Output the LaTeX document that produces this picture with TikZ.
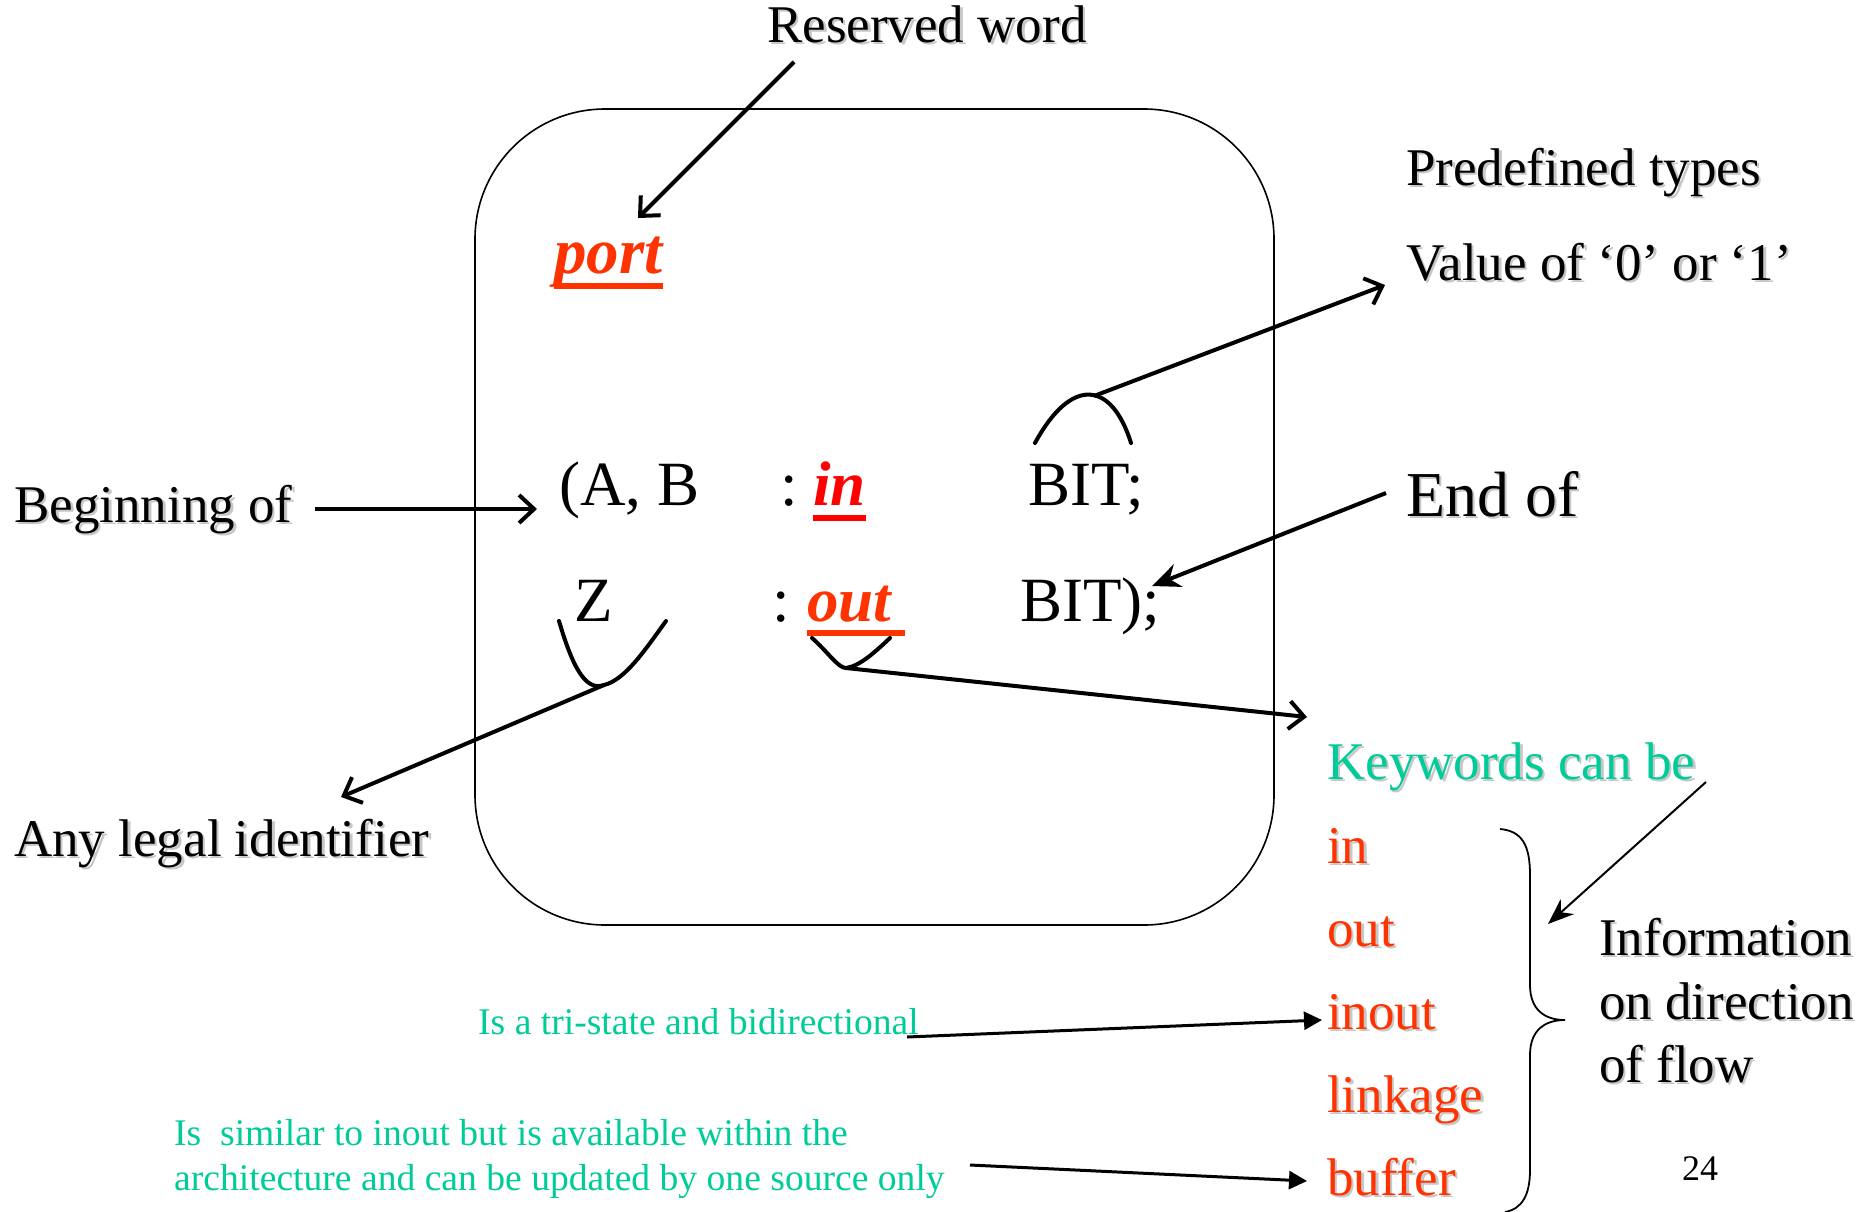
\documentclass[tikz,border=0pt]{standalone}
\usepackage{fontspec}
\setmainfont{Liberation Serif}
\usetikzlibrary{arrows.meta,calc}
\definecolor{kwred}{RGB}{255,51,0}
\definecolor{inred}{RGB}{255,0,0}
\definecolor{note}{RGB}{0,204,153}
% soft grey drop shadow behind slide text
\newcommand\shadowtext[1]{\leavevmode\rlap{\kern2.5pt\raisebox{-2.5pt}{\textcolor{black!22}{#1}}}#1}
\begin{document}
\begin{tikzpicture}[x=1pt,y=-1pt,
  big/.style={font=\fontsize{53}{63}\selectfont, inner sep=0pt, anchor=base west},
  endlbl/.style={font=\fontsize{64}{72}\selectfont, inner sep=0pt, anchor=base west},
  code/.style={font=\fontsize{63}{70}\selectfont, inner sep=0pt, anchor=base west},
  kw/.style={big, text=kwred},
  small/.style={font=\fontsize{37.6}{45}\selectfont, inner sep=0pt, anchor=base west, text=note},
  barb/.style={line width=4pt, -{Straight Barb[length=15pt,width=28pt]}},
  solid tip/.style={line width=4pt, -{Stealth[length=28pt,width=24pt]}},
  tri/.style={line width=3pt, -{Triangle[length=18pt,width=18pt]}},
  brack/.style={line width=4pt, line cap=round},
  uline/.style={line width=6pt}
]
\fill[white] (0,0) rectangle (1864,1211);
\useasboundingbox (0,0) rectangle (1864,1211);

% entity port frame
\draw[line width=1.6pt, rounded corners=130pt] (475,109) rectangle (1274,925);

% labels
\node[big] (reserved) at (767,42) {\shadowtext{Reserved word}};
\node[big] (predef) at (1406,185) {\shadowtext{Predefined types}};
\node[big] (value) at (1406,280) {\shadowtext{Value of ‘0’ or ‘1’}};
\node[big] (begin) at (14,522) {\shadowtext{Beginning of}};
\node[endlbl] (endof) at (1406,516) {\shadowtext{End of}};
\node[big] (anylegal) at (14,856) {\shadowtext{Any legal identifier}};

% port declaration
\node[code, text=kwred, font=\fontsize{65}{70}\selectfont\bfseries\itshape] (port) at (554,273) {port};
\node[code] (ab) at (559,505) {(A, B};
\node[code] (colA) at (780,505) {:};
\node[code, text=inred, font=\fontsize{63}{70}\selectfont\bfseries\itshape] (kin) at (813,505) {in};
\node[code] (bit1) at (1028,505) {BIT;};
\node[code] (z) at (574,621) {Z};
\node[code] (colB) at (772,621) {:};
\node[code, text=kwred, font=\fontsize{63}{70}\selectfont\bfseries\itshape] (kout) at (807,621) {out};
\node[code] (bit2) at (1020,621) {BIT);};

\draw[uline, kwred] ($(port.base west)+(0,13)$) -- ($(port.base east)+(0,13)$);
\draw[uline, inred] ($(kin.base west)+(0,13)$) -- ($(kin.base east)+(0,13)$);
\draw[uline, kwred] ($(kout.base west)+(0,12)$) -- ($(kout.base east)+(14,12)$);

% keyword list
\node[big, text=note] (kwhead) at (1327,779) {\shadowtext{Keywords can be}};
\node[kw] (lin) at (1327,863) {\shadowtext{in}};
\node[kw] (lout) at (1327,946) {\shadowtext{out}};
\node[kw] (linout) at (1327,1029) {\shadowtext{inout}};
\node[kw] (llink) at (1327,1112) {\shadowtext{linkage}};
\node[kw] (lbuf) at (1327,1195) {\shadowtext{buffer}};

\node[big] (info1) at (1599,955) {\shadowtext{Information}};
\node[big] (info2) at (1599,1019) {\shadowtext{on direction}};
\node[big] (info3) at (1599,1082) {\shadowtext{of flow}};
\node[font=\fontsize{36}{40}\selectfont, inner sep=0pt, anchor=base west] (page) at (1682,1180) {24};

% notes
\node[small] (tristate) at (478,1034) {Is a tri-state and bidirectional};
\node[small] (sim1) at (174,1145) {Is\ \ similar to inout but is available within the};
\node[small] (sim2) at (174,1190) {architecture and can be updated by one source only};

% brackets over the code fields
\coordinate (bitpeak) at (1094,396);
\coordinate (zlow) at (604,685);
\coordinate (outlow) at (846,668);
\draw[brack] (1035,443) .. controls (1072,375) and (1112,382) .. (1131,443);
\draw[brack] (559,621) .. controls (572,665) and (585,692) .. (zlow) .. controls (625,680) and (645,650) .. (666,621);
\draw[brack] (812,638) .. controls (828,652) and (838,668) .. (outlow) .. controls (860,666) and (875,652) .. (890,638);

% brace grouping the keywords
\draw[line width=1.8pt] (1500,829) .. controls (1522,831) and (1530,845) .. (1530,875)
  -- (1530,985) .. controls (1530,1010) and (1545,1020) .. (1565,1020)
  .. controls (1545,1020) and (1530,1030) .. (1530,1055)
  -- (1530,1170) .. controls (1530,1195) and (1522,1209) .. (1505,1212);
\coordinate (bracemid) at (1548,924);

% arrow end points
\coordinate (rwtail) at (794,62);
\coordinate (porthead) at (638,218);
\coordinate (valhead) at (1385,285);
\coordinate (begtail) at (315,509);
\coordinate (abhead) at (537,509);
\coordinate (endtail) at (1386,493);
\coordinate (bithead) at (1152,586);
\coordinate (anyhead) at (341,797);
\coordinate (kwarrow) at (1307,717);
\coordinate (kwtail) at (1706,782);
\coordinate (tristail) at (907,1037);
\coordinate (inouthead) at (1322,1020);
\coordinate (simtail) at (970,1165);
\coordinate (bufhead) at (1307,1181);

% connectors
\draw[barb] (rwtail) -- (porthead);
\draw[barb] (bitpeak) -- (valhead);
\draw[barb] (begtail) -- (abhead);
\draw[solid tip] (endtail) -- (bithead);
\draw[barb] (zlow) -- (anyhead);
\draw[barb] (outlow) -- (kwarrow);
\draw[line width=2pt, -{Stealth[length=26pt,width=20pt]}] (kwtail) -- (bracemid);
\draw[tri] (tristail) -- (inouthead);
\draw[tri] (simtail) -- (bufhead);
\end{tikzpicture}
\end{document}
